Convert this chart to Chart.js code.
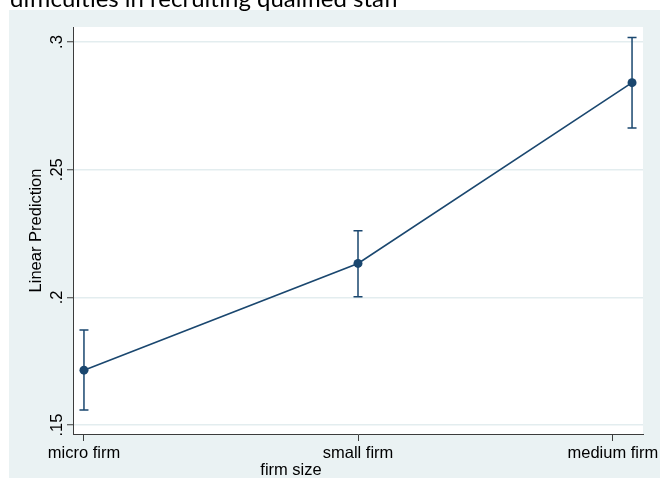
<!DOCTYPE html>
<html>
<head>
<meta charset="utf-8">
<script src="https://cdn.jsdelivr.net/npm/chart.js@4/dist/chart.umd.min.js"></script>
<style>
  html, body { margin: 0; padding: 0; background: #ffffff; }
  #wrap { position: relative; width: 663px; height: 478px; }
  canvas { display: block; }
</style>
</head>
<body>
<div id="wrap"><canvas id="c" width="663" height="478"></canvas></div>
<script>
// ---- data ----
const chartTitle = 'difficulties in recruiting qualified staff';
const categories = ['micro firm', 'small firm', 'medium firm'];
const xPositions = [0, 1, 2];
const prediction = [0.1715, 0.2133, 0.2841];
const ciLower = [0.1559, 0.2003, 0.2663];
const ciUpper = [0.1872, 0.2261, 0.3018];
const xTickPositions = [0, 1, 1.93];
const yTickValues = [0.15, 0.2, 0.25, 0.3];
const yTickLabels = ['.15', '.2', '.25', '.3'];
const xAxisTitle = 'firm size';
const yAxisTitle = 'Linear Prediction';

const NAVY = '#1a476f';
const BG = '#eaf2f3';
const AXIS = '#3c3c3c';
const FONT = '"Liberation Sans", Arial, sans-serif';
const FSIZE = 16.5;

const points = xPositions.map((x, i) => ({ x: x, y: prediction[i] }));

const backgroundPlugin = {
  id: 'bg',
  beforeDraw(chart) {
    const { ctx, chartArea } = chart;
    ctx.save();
    ctx.fillStyle = '#ffffff';
    ctx.fillRect(0, 0, chart.width, chart.height);
    ctx.fillStyle = BG;
    ctx.fillRect(9, 10, 651, 468);
    ctx.fillStyle = '#ffffff';
    ctx.fillRect(chartArea.left, chartArea.top, chartArea.right - chartArea.left, chartArea.bottom - chartArea.top);
    // page title (cut off at the top, as in the reference)
    ctx.font = '100px Lato, "Open Sans", sans-serif';
    const w = ctx.measureText(chartTitle).width;
    const size = 100 * 390 / w;
    ctx.font = size + 'px Lato, "Open Sans", sans-serif';
    ctx.fillStyle = '#000000';
    ctx.textBaseline = 'alphabetic';
    ctx.textAlign = 'left';
    ctx.fillText(chartTitle, 10, 6.5);
    ctx.restore();
  }
};

const errorBarPlugin = {
  id: 'errbars',
  beforeDatasetsDraw(chart) {
    const { ctx, scales } = chart;
    ctx.save();
    ctx.strokeStyle = NAVY;
    ctx.lineWidth = 1.5;
    xPositions.forEach((xv, i) => {
      const x = scales.x.getPixelForValue(xv);
      const yl = scales.y.getPixelForValue(ciLower[i]);
      const yu = scales.y.getPixelForValue(ciUpper[i]);
      ctx.beginPath();
      ctx.moveTo(x, yl); ctx.lineTo(x, yu);
      ctx.moveTo(x - 4.5, yl); ctx.lineTo(x + 4.5, yl);
      ctx.moveTo(x - 4.5, yu); ctx.lineTo(x + 4.5, yu);
      ctx.stroke();
    });
    ctx.restore();
  }
};

const xTitlePlugin = {
  id: 'xtitle',
  afterDraw(chart) {
    const { ctx } = chart;
    ctx.save();
    ctx.font = FSIZE + 'px ' + FONT;
    ctx.fillStyle = '#000000';
    ctx.textAlign = 'center';
    ctx.textBaseline = 'middle';
    ctx.fillText(xAxisTitle, 291, 470);
    ctx.restore();
  }
};

new Chart(document.getElementById('c'), {
  type: 'scatter',
  data: {
    datasets: [{
      data: points,
      showLine: true,
      borderColor: NAVY,
      backgroundColor: NAVY,
      borderWidth: 1.6,
      pointRadius: 4.5,
      pointHoverRadius: 4.5,
      pointBorderWidth: 0,
      tension: 0
    }]
  },
  options: {
    responsive: false,
    animation: false,
    events: [],
    layout: { padding: { top: 27, right: 20, left: 0, bottom: 0 } },
    plugins: { legend: { display: false }, tooltip: { enabled: false }, title: { display: false } },
    scales: {
      x: {
        type: 'linear',
        min: -0.04,
        max: 2.04,
        afterBuildTicks(scale) { scale.ticks = xTickPositions.map(v => ({ value: v })); },
        afterFit(scale) { scale.height = 44; },
        ticks: {
          callback: (v, i) => categories[i],
          font: { family: FONT, size: FSIZE },
          color: '#000000',
          padding: 3,
          maxRotation: 0,
          minRotation: 0,
          autoSkip: false
        },
        grid: { display: true, drawOnChartArea: false, drawTicks: true, tickLength: 7, tickColor: AXIS, tickWidth: 1 },
        border: { display: true, color: AXIS, width: 1 }
      },
      y: {
        type: 'linear',
        min: 0.1465,
        max: 0.3059,
        afterBuildTicks(scale) { scale.ticks = yTickValues.map(v => ({ value: v })); },
        afterFit(scale) { scale.width = 73; },
        ticks: {
          callback: (v, i) => yTickLabels[i],
          font: { family: FONT, size: FSIZE },
          color: '#000000',
          padding: -2,
          minRotation: 90,
          maxRotation: 90,
          crossAlign: 'center',
          autoSkip: false
        },
        grid: { display: true, color: '#e3edef', lineWidth: 1.5, drawTicks: true, tickLength: 6, tickColor: AXIS, tickWidth: 1 },
        border: { display: true, color: AXIS, width: 1 }, 
        title: { display: true, text: yAxisTitle, font: { family: FONT, size: FSIZE }, color: '#000000', padding: { top: 27, bottom: 0 } }
      }
    }
  },
  plugins: [backgroundPlugin, errorBarPlugin, xTitlePlugin]
});
</script>
</body>
</html>
